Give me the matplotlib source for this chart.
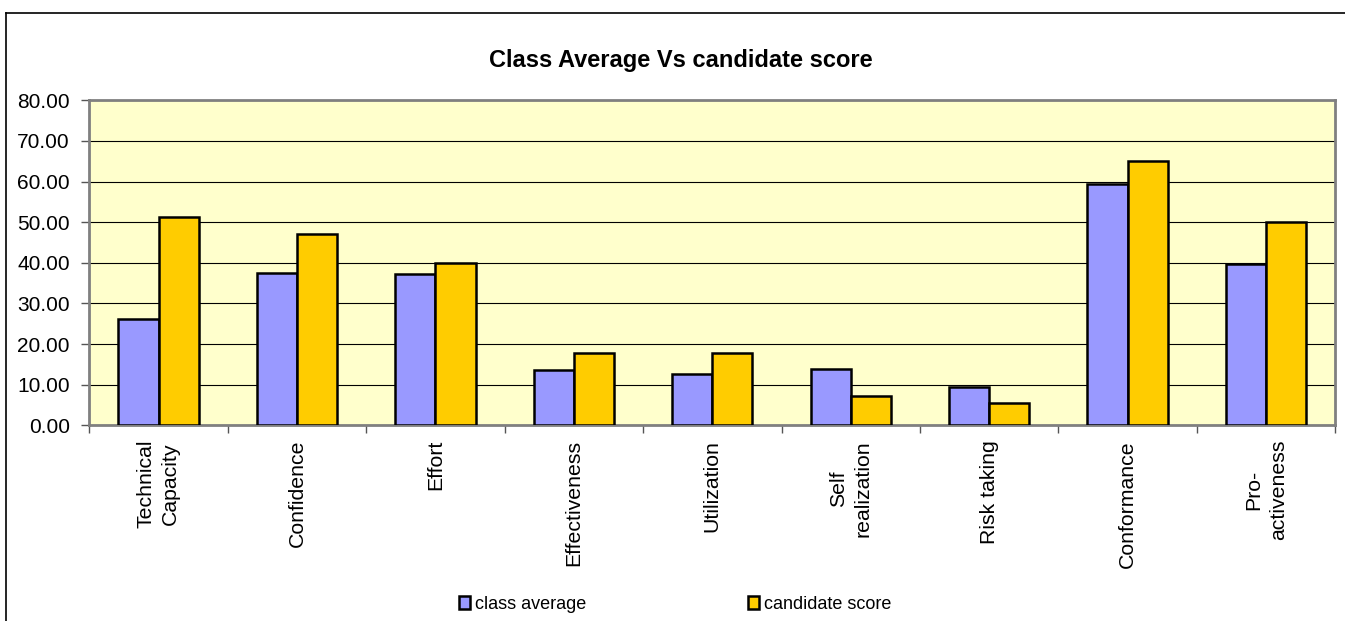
import matplotlib.pyplot as plt
from matplotlib.lines import Line2D
from matplotlib.patches import Patch
import numpy as np

plt.rcParams['font.family'] = ['Liberation Sans', 'DejaVu Sans']

categories = ['Technical\nCapacity', 'Confidence', 'Effort', 'Effectiveness',
              'Utilization', 'Self\nrealization', 'Risk taking', 'Conformance',
              'Pro-\nactiveness']
class_average = [26.2, 37.4, 37.2, 13.5, 12.6, 13.9, 9.5, 59.4, 39.8]
candidate_score = [51.2, 47.1, 40.0, 17.9, 17.9, 7.2, 5.6, 65.0, 50.0]
y_ticks = [0, 10, 20, 30, 40, 50, 60, 70, 80]

fig = plt.figure(figsize=(13.45, 6.21), dpi=100)
ax = fig.add_axes([0.0664, 0.3151, 0.9264, 0.5234])
ax.set_facecolor('#FFFFCC')

x = np.arange(len(categories))
w = 0.29
ax.bar(x - w / 2, class_average, w, color='#9999FF', edgecolor='black',
       linewidth=1.8, zorder=3, label='class average')
ax.bar(x + w / 2, candidate_score, w, color='#FFCC00', edgecolor='black',
       linewidth=1.8, zorder=3, label='candidate score')

ax.set_xlim(-0.5, len(categories) - 0.5)
ax.set_ylim(0, 80)
ax.set_yticks(y_ticks)
ax.set_yticklabels([f'{v:.2f}' for v in y_ticks], fontsize=15)
ax.yaxis.grid(True, color='black', linewidth=0.8, zorder=0)
ax.set_axisbelow(True)
ax.tick_params(axis='y', length=6, width=1, color='#555555', pad=8)

# category boundaries carry the ticks, names sit in the middle
ax.set_xticks(np.arange(-0.5, len(categories), 1.0))
ax.set_xticklabels([])
ax.tick_params(axis='x', length=6, width=1, color='#555555')
for i, name in enumerate(categories):
    ax.text(i, -3.6, name, rotation=90, ha='center', va='top',
            multialignment='center', linespacing=1.35, fontsize=15.3)

for s in ax.spines.values():
    s.set_color('#808080')
    s.set_linewidth(2)

fig.text(0.506, 0.902, 'Class Average Vs candidate score', ha='center',
         va='center', fontsize=17, fontweight='bold')

handles = [Patch(facecolor='#9999FF', edgecolor='black', linewidth=1.8),
           Patch(facecolor='#FFCC00', edgecolor='black', linewidth=1.8)]
fig.legend(handles, ['class average', 'candidate score'], loc='center',
           bbox_to_anchor=(0.502, 0.027), ncol=2, frameon=False, fontsize=13,
           handlelength=0.6, handleheight=0.8, handletextpad=0.25,
           columnspacing=9.0)

# outer chart border
fig.add_artist(Line2D([6 / 1345, 6 / 1345], [0, 1 - 13 / 621], color='black',
                      linewidth=1.2, transform=fig.transFigure))
fig.add_artist(Line2D([6 / 1345, 1], [1 - 13 / 621, 1 - 13 / 621],
                      color='black', linewidth=1.2, transform=fig.transFigure))

fig.savefig('out.png', dpi=100)
